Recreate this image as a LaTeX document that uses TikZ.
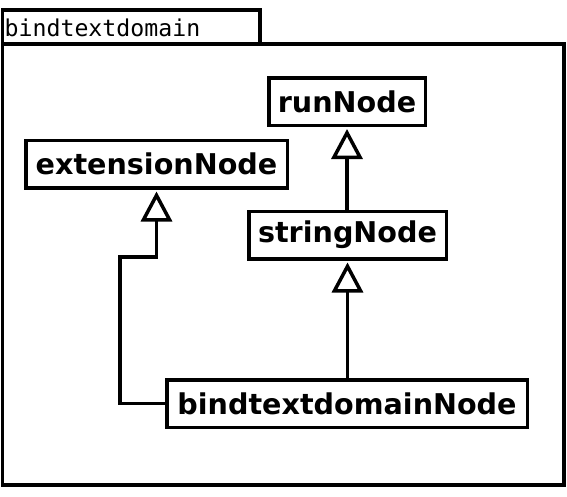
\documentclass[tikz,border=0pt]{standalone}
\usepackage{fontspec}
\newfontfamily\boxfont{DejaVu Sans}
\newfontfamily\tabfont{DejaVu Sans Mono}
\usetikzlibrary{arrows.meta}
\begin{document}
\begin{tikzpicture}[x=1pt,y=-1pt,
  frame/.style={draw=black,line width=3.5pt},
  cls/.style={draw=black,line width=3.5pt,fill=white,inner sep=0pt,
    font=\boxfont\bfseries\fontsize{28.6}{34}\selectfont,minimum height=47.5pt},
  inh/.style={draw=black,line width=3.5pt,shorten >=2pt,
    -{Triangle[open,length=30pt,width=31pt,line width=3.5pt]}}]
\useasboundingbox (0,0) rectangle (567,496);
% package frame
\draw[frame] (2.5,44) rectangle (564,485);
\draw[frame] (2.5,10) rectangle (260,44);
\node[anchor=base west,inner sep=0pt,font=\tabfont\fontsize{23.2}{26}\selectfont] (title) at (4.5,36) {bindtextdomain};
% classes
\node[cls,minimum width=156.5pt] (run) at (347,101.5) {runNode};
\node[cls,minimum width=261.5pt] (ext) at (156.5,164) {extensionNode};
\node[cls,minimum width=197.5pt] (str) at (347.5,235) {stringNode};
\node[cls,minimum width=360.5pt] (bdn) at (347,403.5) {bindtextdomainNode};
% connectors
\coordinate (k1) at (120,257);
\draw[inh] (str.north -| run.south) -- (run.south);
\draw[inh] (bdn.north -| str.south) -- (str.south);
\draw[inh] (bdn.west) -| (k1) -| (ext.south);
\end{tikzpicture}
\end{document}
